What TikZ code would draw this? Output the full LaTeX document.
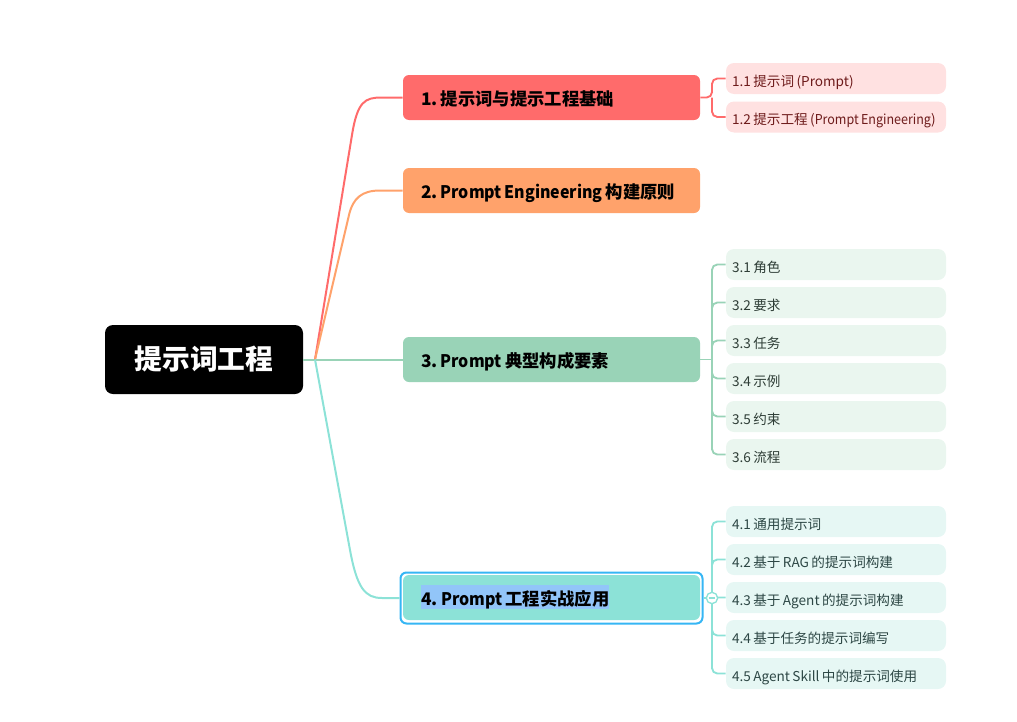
\documentclass[tikz,border=0pt]{standalone}
\usepackage{fontspec}
\setmainfont{Noto Sans CJK SC}[WordSpace=0.8]
\newfontfamily\lat{Noto Sans CJK SC}[FakeStretch=0.92,WordSpace=0.8]
\frenchspacing
\definecolor{cA}{HTML}{FF6B6B}
\definecolor{cB}{HTML}{FFA26B}
\definecolor{cC}{HTML}{99D3B7}
\definecolor{cD}{HTML}{8CE2D7}
\definecolor{sA}{HTML}{FFE1E1}
\definecolor{sC}{HTML}{EAF6EF}
\definecolor{sD}{HTML}{E6F7F4}
\definecolor{tA}{HTML}{6E1B1B}
\definecolor{tC}{HTML}{2E3D36}
\definecolor{tD}{HTML}{2D4745}
\definecolor{selblue}{HTML}{36B6F4}
\definecolor{hlblue}{HTML}{92C5F9}
\begin{document}
\begin{tikzpicture}[x=0.75pt,y=-0.75pt,
  rootbox/.style={fill=black,text=white,rounded corners=6pt,minimum width=148.5pt,minimum height=51.75pt,inner sep=0pt,text height=1.45em,text depth=0pt,font=\fontsize{20.8}{24}\selectfont\bfseries\frenchspacing},
  branchbox/.style={rounded corners=4.5pt,minimum height=33.75pt,minimum width=222.75pt,inner xsep=13.5pt,inner ysep=0pt,text height=1.22em,text depth=0pt,font=\fontsize{13}{15}\selectfont\bfseries\frenchspacing,
    execute at begin node={\hbox to 195.75pt\bgroup}, execute at end node={\hss\egroup}},
  subbox/.style={rounded corners=6pt,minimum height=23.25pt,minimum width=165pt,inner xsep=4.5pt,inner ysep=0pt,text height=1.15em,text depth=0pt,font=\fontsize{10.2}{12}\selectfont\frenchspacing,
    execute at begin node={\hbox to 156pt\bgroup}, execute at end node={\hss\egroup}},
  mainline/.style={line width=1.5pt},
  subline/.style={line width=1.4pt,rounded corners=4pt}
]
\useasboundingbox (0,0) rectangle (1017,721);
% root
\node[rootbox] (root) at (204,359.5) {提示词工程};
\coordinate (hub) at (315,359.5);
% branches
\node[branchbox,fill=cA] (b1) at (551.5,97.5) {1. 提示词与提示工程基础};
\node[branchbox,fill=cB] (b2) at (551.5,190.5) {2. {\lat Prompt Engineering} 构建原则};
\node[branchbox,fill=cC] (b3) at (551.5,359.5) {3. {\lat Prompt} 典型构成要素};
\node[draw=selblue,line width=1.5pt,rounded corners=4.5pt,minimum width=226.5pt,minimum height=38.25pt,inner sep=0pt] (sel) at (551.5,598) {};
\node[branchbox,fill=cD] (b4) at (551.5,597.5) {};
\node[fill=hlblue,inner xsep=0pt,inner ysep=0pt,minimum height=18pt,text height=1.2em,text depth=0pt,anchor=west,font=\fontsize{13}{15}\selectfont\bfseries\frenchspacing] (t4) at (421,597) {4. {\lat Prompt} 工程实战应用};
% main connectors
\draw[mainline,cC] (root.east) -- (hub);
\draw[mainline,cA] (hub) -- (352,135) .. controls (357.5,101) and (365,97.5) .. (382,97.5) -- (b1.west);
\draw[mainline,cB] (hub) -- (349,215) .. controls (353,198) and (362,190.5) .. (380,190.5) -- (b2.west);
\draw[mainline,cC] (hub) -- (b3.west);
\draw[mainline,cD] (hub) -- (350,550) .. controls (357,588) and (365,598) .. (382,598) -- (sel.west);
% sub items 1
\node[subbox,fill=sA,text=tA] (s11) at (836,78.5) {1.1 提示词 (Prompt)};
\node[subbox,fill=sA,text=tA] (s12) at (836,117) {1.2 提示工程 ({\lat Prompt Engineering})};
\coordinate (j1) at (712,97.5);
\draw[subline,cA] (b1.east) -- (j1) |- (s11.west);
\draw[subline,cA] (j1) |- (s12.west);
% sub items 3
\node[subbox,fill=sC,text=tC] (s31) at (836,264.5) {3.1 角色};
\node[subbox,fill=sC,text=tC] (s32) at (836,302.5) {3.2 要求};
\node[subbox,fill=sC,text=tC] (s33) at (836,340.5) {3.3 任务};
\node[subbox,fill=sC,text=tC] (s34) at (836,378.5) {3.4 示例};
\node[subbox,fill=sC,text=tC] (s35) at (836,416.5) {3.5 约束};
\node[subbox,fill=sC,text=tC] (s36) at (836,454.5) {3.6 流程};
\coordinate (j3) at (712,359.5);
\draw[subline,cC] (b3.east) -- (j3);
\foreach \s in {s31,s32,s33,s34,s35,s36}{\draw[subline,cC] (j3) |- (\s.west);}
% sub items 4
\node[subbox,fill=sD,text=tD] (s41) at (836,521.5) {4.1 通用提示词};
\node[subbox,fill=sD,text=tD] (s42) at (836,559.5) {4.2 基于 RAG 的提示词构建};
\node[subbox,fill=sD,text=tD] (s43) at (836,597.5) {4.3 基于 Agent 的提示词构建};
\node[subbox,fill=sD,text=tD] (s44) at (836,635.5) {4.4 基于任务的提示词编写};
\node[subbox,fill=sD,text=tD] (s45) at (836,673.5) {4.5 Agent Skill 中的提示词使用};
\coordinate (j4) at (712,598);
\draw[subline,cD] (sel.east) -- (j4);
\foreach \s in {s41,s42,s43,s44,s45}{\draw[subline,cD] (j4) |- (\s.west);}
\node[circle,draw=cD,fill=white,line width=1pt,minimum size=8.5pt,inner sep=0pt] (c4) at (j4) {};
\draw[cD,line width=0.8pt] ([xshift=-2.6pt]c4.center) -- ([xshift=2.6pt]c4.center);
\end{tikzpicture}
\end{document}
